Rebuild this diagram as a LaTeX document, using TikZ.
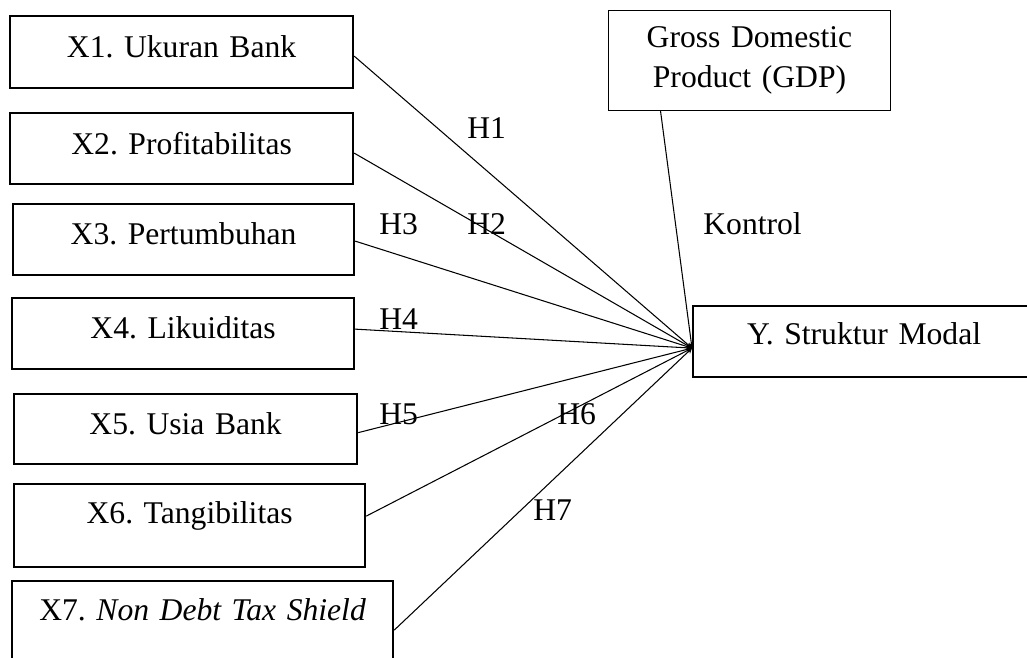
\documentclass[tikz,border=0pt]{standalone}
\usepackage{fontspec}
\setmainfont{Liberation Serif}
\usetikzlibrary{arrows.meta}
\frenchspacing

\begin{document}
\begin{tikzpicture}[x=0.02cm, y=-0.02cm,
		font=\fontsize{18}{22.7}\selectfont,
		kasten/.style={draw, line width=1.3pt, inner sep=0pt, anchor=north west, align=center},
		kastenduenn/.style={draw, line width=0.6pt, inner sep=0pt, anchor=north west, align=center},
		beschriftung/.style={inner sep=0pt, anchor=base west},
		pfeil/.style={line width=0.6pt, -{Stealth[length=3pt, width=3pt]}}]
			%\draw [lightgray](0,0) grid (1027,658);
			\useasboundingbox (0,0) rectangle (1027,658);
			\clip (0,0) rectangle (1027,658);
			
			% Zeichnet die Kaesten der unabhaengigen Variablen X1 bis X7
			\node[kasten, text width=6.86cm, text height=0.82cm, text depth=0.62cm] (x1) at (9,15) {X1. Ukuran Bank};
			\node[kasten, text width=6.86cm, text height=0.82cm, text depth=0.60cm] (x2) at (9,112) {X2. Profitabilitas};
			\node[kasten, text width=6.82cm, text height=0.80cm, text depth=0.62cm] (x3) at (12,203) {X3. Pertumbuhan};
			\node[kasten, text width=6.84cm, text height=0.80cm, text depth=0.62cm] (x4) at (11,297) {X4. Likuiditas};
			\node[kasten, text width=6.86cm, text height=0.80cm, text depth=0.60cm] (x5) at (13,393) {X5. Usia Bank};
			\node[kasten, text width=7.02cm, text height=0.78cm, text depth=0.88cm] (x6) at (13,483) {X6. Tangibilitas};
			\node[kasten, text width=7.62cm, text height=0.78cm, text depth=1.18cm] (x7) at (11,580) {X7. \textit{Non Debt Tax Shield}};
			
			% Zeichnet den Kasten der Kontrollvariable
			\node[kastenduenn, text width=5.64cm, minimum height=2cm] (gdp) at (608,10) {Gross Domestic\\Product (GDP)};
			
			% Zeichnet den Kasten der abhaengigen Variable
			\node[kasten, text width=6.84cm, text height=0.76cm, text depth=0.66cm] (ym) at (692,305) {Y. Struktur Modal};
			\coordinate (ziel) at ([yshift=-0.13cm]ym.west);
			
			% Zeichnet die Pfeile der Hypothesen H1 bis H7
			\draw[pfeil] ([yshift=-0.08cm]x1.east) -- (ziel);
			\draw[pfeil] ([yshift=-0.09cm]x2.east) -- (ziel);
			\draw[pfeil] ([yshift=-0.03cm]x3.east) -- (ziel);
			\draw[pfeil] ([yshift=0.09cm]x4.east) -- (ziel);
			\draw[pfeil] ([yshift=-0.07cm]x5.east) -- (ziel);
			\draw[pfeil] ([yshift=0.19cm]x6.east) -- (ziel);
			\draw[pfeil] (x7.east) -- (ziel);
			
			% Zeichnet den Pfeil der Kontrollvariable
			\draw[pfeil] ([xshift=-1.78cm]gdp.south) -- (ziel);
			
			% Beschriftungen der Pfeile
			\node[beschriftung] (h1) at (467,139) {H1};
			\node[beschriftung] (h2) at (467,235) {H2};
			\node[beschriftung] (h3) at (379,235) {H3};
			\node[beschriftung] (h4) at (379,330) {H4};
			\node[beschriftung] (h5) at (379,424) {H5};
			\node[beschriftung] (h6) at (557,424) {H6};
			\node[beschriftung] (h7) at (533,520) {H7};
			\node[beschriftung] (kontrol) at (703,235) {Kontrol};
		\end{tikzpicture}
\end{document}
